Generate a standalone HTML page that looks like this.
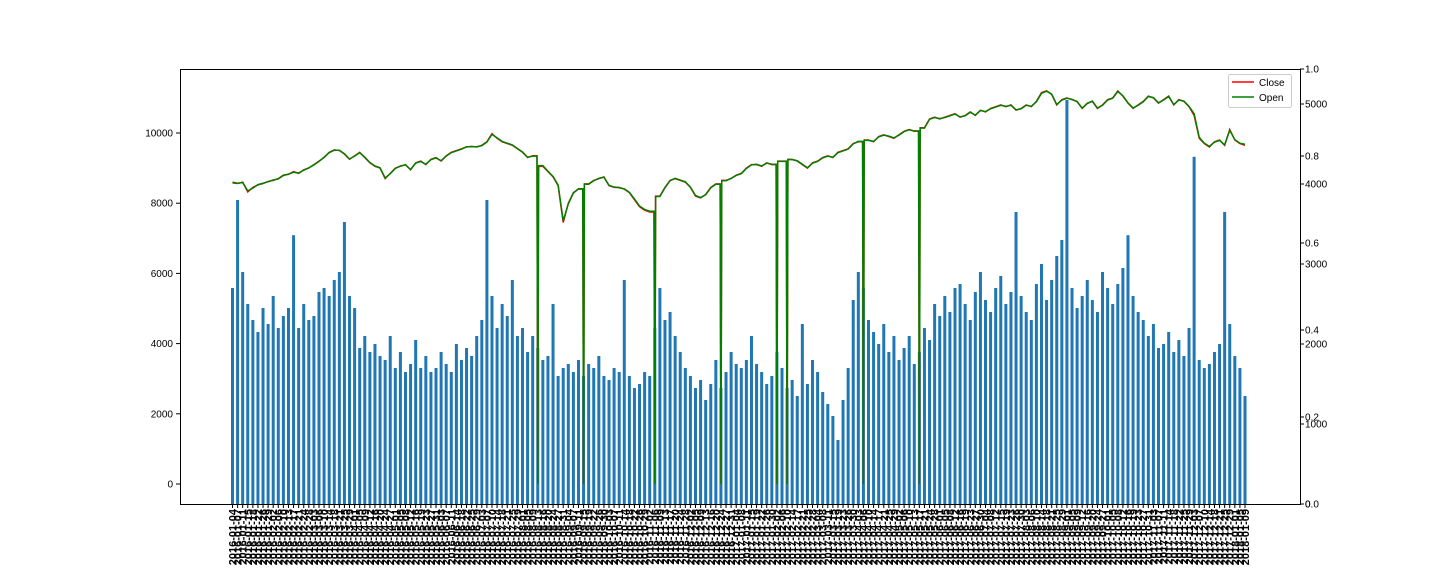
<!DOCTYPE html>
<html><head><meta charset="utf-8"><style>
html,body{margin:0;padding:0;background:#fff;width:1440px;height:576px;overflow:hidden;}
svg{display:block;font-family:"Liberation Sans","DejaVu Sans",sans-serif;}
</style></head><body>
<svg id="chart" width="1440" height="576" viewBox="0 0 1440 576">
<g id="bars"></g>
<g id="lines"></g>
<g id="xlab"></g>
<rect x="180.5" y="69.5" width="1120" height="435" fill="none" stroke="#000" stroke-width="1"/>
<g id="laxis"></g>
<g id="raxis"></g>
<g>
<rect x="1228.5" y="74.5" width="63" height="33" rx="2" fill="#fff" fill-opacity="0.8" stroke="#ccc"/>
<line x1="1232" y1="82" x2="1254" y2="82" stroke="red" stroke-width="1.5"/>
<text x="1259" y="86" font-size="10">Close</text>
<line x1="1232" y1="97" x2="1254" y2="97" stroke="green" stroke-width="1.5"/>
<text x="1259" y="101" font-size="10">Open</text>
</g>
</svg>
<script>
const volume=[2700,3800,2900,2500,2300,2150,2450,2250,2600,2200,
2350,2450,3360,2200,2500,2300,2350,2650,2700,2600,
2800,2900,3525,2600,2450,1950,2100,1900,2000,1850,
1800,2100,1700,1900,1650,1750,2050,1700,1850,1650,
1700,1900,1750,1650,2000,1800,1950,1850,2100,2300,
3800,2600,2200,2500,2350,2800,2100,2200,1900,2100,
1950,1800,1850,2500,1600,1700,1750,1650,1800,1600,
1750,1700,1850,1600,1550,1700,1650,2800,1600,1450,
1500,1650,1600,2200,2700,2300,2400,2100,1900,1700,
1600,1450,1550,1300,1500,1800,1450,1650,1900,1750,
1700,1800,2100,1750,1650,1500,1600,1900,1700,1450,
1550,1350,2250,1500,1800,1650,1400,1250,1100,800,
1300,1700,2550,2900,2700,2300,2150,2000,2250,1900,
2100,1800,1950,2100,1750,1900,2200,2050,2500,2350,
2600,2400,2700,2750,2500,2300,2650,2900,2550,2400,
2700,2850,2500,2650,3650,2600,2400,2300,2750,3000,
2550,2800,3100,3300,5050,2700,2450,2600,2800,2550,
2400,2900,2700,2500,2750,2950,3360,2600,2400,2300,
2100,2250,1950,2000,2150,1900,2050,1850,2200,4340,
1800,1700,1750,1900,2000,3650,2250,1850,1700,1350];
const closeVals=[8580,8560,8600,8320,8450,8520,8560,8620,8650,8700,
8800,8820,8900,8850,8950,9000,9100,9200,9300,9450,
9520,9500,9400,9250,9350,9450,9300,9150,9050,9000,
8700,8850,9000,9050,9100,8950,9150,9200,9100,9250,
9300,9200,9350,9450,9500,9550,9600,9620,9600,9650,
9750,9980,9850,9750,9700,9650,9550,9450,9300,9350,
0,9050,8900,8750,8500,7450,8000,8300,8400,0,
8550,8650,8700,8750,8500,8450,8450,8400,8300,8100,
7900,7800,7750,0,8200,8450,8650,8700,8650,8600,
8450,8200,8150,8250,8450,8550,0,8650,8700,8800,
8850,9000,9100,9100,9050,9150,9100,0,9200,0,
9250,9200,9100,9000,9150,9200,9300,9350,9300,9450,
9500,9550,9700,9750,0,9800,9750,9900,9950,9900,
9850,9950,10050,10100,10050,0,10150,10400,10450,10400,
10450,10500,10550,10450,10500,10600,10500,10650,10600,10700,
10750,10800,10750,10800,10650,10700,10800,10750,10900,11150,
11200,11100,10800,10950,11000,10950,10900,10700,10850,10900,
10700,10800,10950,11000,11200,11050,10850,10700,10800,10900,
11050,11000,10850,10950,11050,10800,10950,10900,10750,10500,
9850,9700,9600,9750,9800,9650,10100,9800,9700,9650];
const openVals=[8600,8570,8590,8350,8430,8530,8570,8610,8660,8690,
8790,8830,8880,8860,8940,9010,9090,9190,9310,9440,
9510,9510,9410,9260,9340,9440,9310,9160,9060,9010,
8720,8840,8990,9060,9090,8960,9140,9190,9110,9240,
9290,9210,9340,9440,9490,9540,9610,9610,9610,9640,
9740,9960,9860,9760,9710,9660,9560,9460,9310,9340,
0,9070,8910,8760,8520,7500,7980,8290,8410,0,
8540,8640,8710,8740,8510,8460,8440,8410,8310,8120,
7920,7820,7770,0,8190,8440,8640,8710,8660,8610,
8460,8220,8160,8240,8440,8540,0,8640,8710,8790,
8840,8990,9090,9110,9060,9140,9110,0,9190,0,
9240,9210,9110,9010,9140,9190,9290,9340,9310,9440,
9490,9540,9690,9760,0,9790,9760,9890,9940,9910,
9860,9940,10040,10090,10060,0,10140,10390,10440,10410,
10440,10490,10540,10460,10490,10590,10510,10640,10610,10690,
10740,10790,10760,10790,10660,10690,10790,10760,10890,11130,
11190,11110,10810,10940,10990,10960,10890,10710,10840,10910,
10710,10790,10940,10990,11180,11060,10860,10710,10790,10890,
11040,11010,10860,10940,11040,10810,10940,10910,10760,10550,
9880,9710,9620,9740,9790,9660,10080,9810,9710,9680];
const leftTicks=[0,2000,4000,6000,8000,10000];
const rightFracTicks=["0.0","0.2","0.4","0.6","0.8","1.0"];
const rightVolTicks=[0,1000,2000,3000,4000,5000];

const NS="http://www.w3.org/2000/svg";
const N=closeVals.length;
const x0=232.5,x1=1245;
const xPos=i=>x0+i*(x1-x0)/(N-1);
const yLeft=v=>484-v*0.0351;
const yVol=v=>504-v*0.08;
const yFrac=f=>504-f*435;
function mk(tag,attrs,parent){const e=document.createElementNS(NS,tag);for(const k in attrs)e.setAttribute(k,attrs[k]);parent.appendChild(e);return e;}

const bars=document.getElementById('bars');
volume.forEach((v,i)=>{
  const r=mk('rect',{x:(xPos(i)-1.5).toFixed(2),y:yVol(v).toFixed(2),width:3.0,height:(504-yVol(v)).toFixed(2),fill:'#1f77b4'},bars);
  
  
});
const lines=document.getElementById('lines');
function pathOf(arr){
  let d='';
  arr.forEach((v,i)=>{
    const x=xPos(i), y=yLeft(v);
    if(i===0){d+='M'+x.toFixed(2)+' '+y.toFixed(2);return;}
    const prev=arr[i-1];
    if(v===0||prev===0){
      const xm=v===0?x-0.8:xPos(i-1)+0.8;
      if(v===0){d+=' L'+xm.toFixed(2)+' '+yLeft(prev).toFixed(2)+' L'+x.toFixed(2)+' '+y.toFixed(2);}
      else{d+=' L'+xm.toFixed(2)+' '+y.toFixed(2)+' L'+x.toFixed(2)+' '+y.toFixed(2);}
      return;
    }
    d+=' L'+x.toFixed(2)+' '+y.toFixed(2);
  });
  return d;
}
const pc=mk('path',{d:pathOf(closeVals),fill:'none',stroke:'red','stroke-width':1.5},lines);


const po=mk('path',{d:pathOf(openVals),fill:'none',stroke:'green','stroke-width':1.5},lines);



const la=document.getElementById('laxis');
leftTicks.forEach(t=>{
  const y=yLeft(t);
  mk('line',{x1:176,x2:180,y1:y,y2:y,stroke:'#000'},la);
  const tx=mk('text',{x:173,y:y+3.5,'font-size':10,'text-anchor':'end'},la);
  tx.textContent=t;
  
  
});
const ra=document.getElementById('raxis');
rightFracTicks.forEach((t,i)=>{
  const y=yFrac(i/5);
  mk('line',{x1:1300,x2:1304,y1:y,y2:y,stroke:'#000'},ra);
  const tx=mk('text',{x:1305,y:y+3.5,'font-size':10},ra);
  tx.textContent=t;
  
  
});
rightVolTicks.forEach(t=>{
  const y=yVol(t);
  mk('line',{x1:1300,x2:1304,y1:y,y2:y,stroke:'#000'},ra);
  const tx=mk('text',{x:1305,y:y+3.5,'font-size':10},ra);
  tx.textContent=t;
  
  
});
const xl=document.getElementById('xlab');
const start=new Date(Date.UTC(2016,0,4));
for(let i=0;i<N;i++){
  const x=xPos(i);
  mk('line',{x1:x,x2:x,y1:504,y2:508,stroke:'#000'},xl);
  const d=new Date(start.getTime()+i*3.7*86400000);
  const tx=mk('text',{x:0,y:0,'font-size':11,'font-weight':'bold',transform:`translate(${x+4},509) rotate(-90)`,'text-anchor':'end'},xl);
  tx.textContent=d.toISOString().slice(0,10);
  
  
}
</script>
</body></html>
